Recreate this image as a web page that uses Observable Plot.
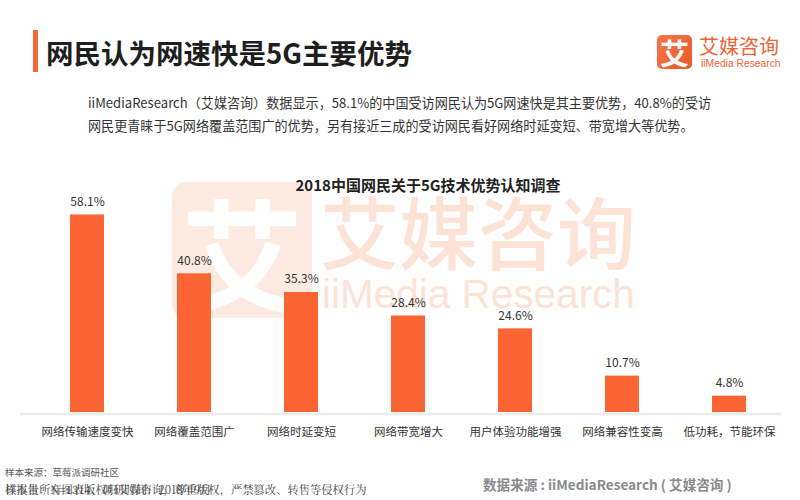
<!DOCTYPE html>
<html>
<head>
<meta charset="utf-8">
<script src="https://cdn.jsdelivr.net/npm/d3@7"></script>
<script src="https://cdn.jsdelivr.net/npm/@observablehq/plot@0.6"></script>
<style>
  html, body { margin: 0; padding: 0; background: #fff; }
  #page { position: relative; width: 800px; height: 500px; overflow: hidden; background: #fff;
    font-family: "Noto Sans CJK SC", "Noto Sans", sans-serif; color: #333; }
  .abs { position: absolute; white-space: nowrap; }
  #accent { left: 33px; top: 30px; width: 5px; height: 42px; background: #f26a3a; }
  #title { left: 46px; top: 32px; font-size: 27.5px; font-weight: bold; color: #1e1e1e; line-height: 40px; }
  #logoSq { left: 657px; top: 35px; width: 35px; height: 34px; border-radius: 5px; background: linear-gradient(135deg, #f4774a, #e9592c);
    color: #fff; font-size: 29px; font-weight: bold; text-align: center; line-height: 34px; }
  #logoCn { left: 699px; top: 33px; font-size: 20px; color: #ef6436; line-height: 26px; }
  #logoEn { left: 701px; top: 58px; font-family: "Liberation Sans", Arial, sans-serif; font-size: 10.3px; color: #ef6436; line-height: 12px; }
  #para { left: 88px; top: 91px; font-size: 13.1px; line-height: 23px; color: #333; }
  #wmSq { left: 172px; top: 182px; width: 140px; height: 136px; border-radius: 14px; background: #fdebe2;
    color: #fff; font-size: 122px; font-weight: bold; text-align: center; line-height: 136px; z-index: 0; }
  #wmCn { left: 320px; top: 180px; font-size: 79px; font-weight: 500; color: #fde3d5; line-height: 100px; z-index: 0; }
  #wmEn { left: 322px; top: 271px; font-family: "Liberation Sans", Arial, sans-serif; font-size: 40.5px; color: #fde3d5; line-height: 46px; z-index: 0; }
  #chartTitle { left: 0; width: 856px; text-align: center; top: 175px; font-size: 15px; font-weight: bold; color: #222; line-height: 20px; z-index: 2; }
  #chart { left: 0; top: 190px; z-index: 1; }
  #foot1 { left: 5px; top: 465px; font-size: 9.5px; color: #555; line-height: 14px; }
  #foot2a, #foot2b { left: 5px; top: 481px; font-size: 11.3px; color: #444; line-height: 16px; font-family: "Noto Serif CJK SC", "Noto Sans CJK SC", serif; }
  #src { left: 483px; top: 475px; font-size: 13.6px; font-weight: bold; color: #8a8a8a; line-height: 18px; }
</style>
</head>
<body>
<div id="page">
  <div class="abs" id="wmSq">艾</div>
  <div class="abs" id="wmCn">艾媒咨询</div>
  <div class="abs" id="wmEn">iiMedia Research</div>
  <div class="abs" id="accent"></div>
  <div class="abs" id="title">网民认为网速快是5G主要优势</div>
  <div class="abs" id="logoSq">艾</div>
  <div class="abs" id="logoCn">艾媒咨询</div>
  <div class="abs" id="logoEn">iiMedia Research</div>
  <div class="abs" id="para">iiMediaResearch（艾媒咨询）数据显示，58.1%的中国受访网民认为5G网速快是其主要优势，40.8%的受访<br>网民更青睐于5G网络覆盖范围广的优势，另有接近三成的受访网民看好网络时延变短、带宽增大等优势。</div>
  <div class="abs" id="chartTitle">2018中国网民关于5G技术优势认知调查</div>
  <div class="abs" id="chart"></div>
  <div class="abs" id="foot1">样本来源：草莓派调研社区</div>
  <div class="abs" id="foot2a">样本量：N=1314；调研时间：2018年9月</div>
  <div class="abs" id="foot2b">该报告所有图表版权归艾媒咨询，尊重版权，严禁篡改、转售等侵权行为</div>
  <div class="abs" id="src">数据来源 : iiMediaResearch ( 艾媒咨询 )</div>
</div>
<script>
const categories = ["网络传输速度变快", "网络覆盖范围广", "网络时延变短", "网络带宽增大", "用户体验功能增强", "网络兼容性变高", "低功耗，节能环保"];
const values = [58.1, 40.8, 35.3, 28.4, 24.6, 10.7, 4.8];
const valueLabels = ["58.1%", "40.8%", "35.3%", "28.4%", "24.6%", "10.7%", "4.8%"];

const data = categories.map((c, i) => ({category: c, value: values[i], label: valueLabels[i]}));

const chart = Plot.plot({
  width: 800,
  height: 260,
  marginTop: 18,
  marginBottom: 38,
  marginLeft: 20,
  marginRight: 18,
  style: {background: "transparent", fontFamily: "'Noto Sans CJK SC', sans-serif", fontSize: "11.5px", color: "#333", overflow: "visible"},
  x: {domain: categories, range: [31, 785], paddingInner: 0.684, paddingOuter: 0.342, label: null, tickSize: 0, tickPadding: 15},
  y: {domain: [0, 60], axis: null},
  marks: [
    Plot.ruleY([0], {stroke: "#ececec", strokeWidth: 2.5, dy: 1.5}),
    Plot.barY(data, {x: "category", y: "value", fill: "#fb6433"}),
    Plot.text(data, {x: "category", y: "value", text: "label", dy: -13, fontSize: 12, fill: "#333"})
  ]
});
document.getElementById("chart").appendChild(chart);
</script>
</body>
</html>
